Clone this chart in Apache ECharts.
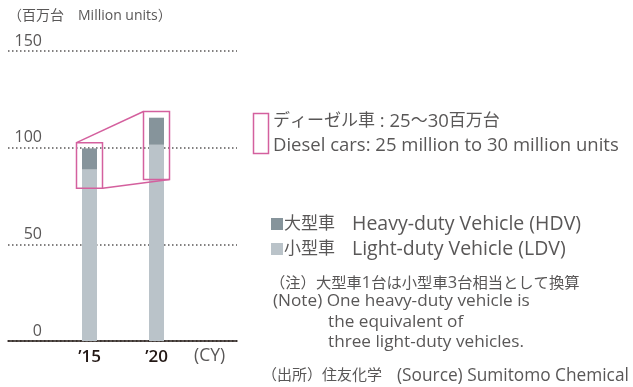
<!DOCTYPE html>
<html>
<head>
<meta charset="utf-8">
<script src="https://cdn.jsdelivr.net/npm/echarts@6/dist/echarts.min.js"></script>
<style>
  html, body { margin: 0; padding: 0; background: #fff; }
  #chart { width: 633px; height: 387px; }
</style>
</head>
<body>
<div id="chart"></div>
<script>
  // data (million units)
  var years = ['\u201915', '\u201920'];
  var ldv = [88.7, 101.5];     // 小型車 Light-duty Vehicle
  var hdv = [10.9, 14.0];      // 大型車 Heavy-duty Vehicle
  var dieselLow = [79.0, 83.5];
  var dieselHigh = [102.6, 118.7];
  var yTicks = [0, 50, 100, 150];

  var FONT = "'Open Sans', 'Noto Sans CJK JP', sans-serif";
  var GRAY = '#595757';
  var PINK = '#d4609e';
  var HDV_NAME = '大型車　Heavy-duty Vehicle (HDV)';
  var LDV_NAME = '小型車　Light-duty Vehicle (LDV)';

  // japanese part and latin part get different sizes, like the original typeface
  function rich(j, e, lh) {
    return {
      j: { fontSize: j, fill: GRAY, fontFamily: FONT, lineHeight: lh },
      e: { fontSize: e, fill: GRAY, fontFamily: FONT, lineHeight: lh }
    };
  }

  var chart = echarts.init(document.getElementById('chart'));

  chart.setOption({
    animation: false,
    textStyle: { fontFamily: FONT },
    grid: [
      // full-width grid: dotted lines, tick labels, base line
      { left: 8, top: 51, width: 229, bottom: 46 },
      // bars
      { left: 56, top: 51, width: 134, bottom: 46 }
    ],
    xAxis: [
      {
        gridIndex: 0, type: 'value', min: 0, max: 1,
        axisLine: { show: true, lineStyle: { color: '#231815', width: 1.5 } },
        axisTick: { show: false }, axisLabel: { show: false }, splitLine: { show: false }
      },
      {
        gridIndex: 1, type: 'category', data: years,
        axisLine: { show: false }, axisTick: { show: false },
        axisLabel: { color: '#231815', fontSize: 17, fontWeight: 600, margin: 8 }
      }
    ],
    yAxis: [
      {
        gridIndex: 0, type: 'value', min: yTicks[0], max: yTicks[yTicks.length - 1], interval: 50,
        axisLine: { show: false }, axisTick: { show: false },
        axisLabel: {
          color: GRAY, fontSize: 16, margin: -34, verticalAlign: 'bottom', padding: [0, 0, 2, 0]
        },
        splitLine: { show: true, lineStyle: { color: GRAY, width: 1.5, type: [1.5, 2.5] } }
      },
      {
        gridIndex: 1, type: 'value', min: 0, max: 150, show: false
      }
    ],
    legend: {
      orient: 'vertical', left: 266, top: 208,
      itemWidth: 12, itemHeight: 12, itemGap: 3, icon: 'rect',
      data: [HDV_NAME, LDV_NAME],
      formatter: function (name) {
        var parts = name.split('　');
        return '{j|' + parts[0] + '　}{e|' + parts[1] + '}';
      },
      textStyle: {
        color: GRAY, padding: [0, 0, 0, -4], lineHeight: 22,
        rich: {
          j: { fontSize: 17, color: GRAY, lineHeight: 22 },
          e: { fontSize: 19.5, color: GRAY, lineHeight: 22 }
        }
      }
    },
    series: [
      {
        name: LDV_NAME, type: 'bar', stack: 'total', xAxisIndex: 1, yAxisIndex: 1,
        barWidth: 15, itemStyle: { color: '#bac3c9' }, data: ldv
      },
      {
        name: HDV_NAME, type: 'bar', stack: 'total', xAxisIndex: 1, yAxisIndex: 1,
        barWidth: 15, itemStyle: { color: '#86949b' }, data: hdv
      },
      {
        // pink diesel boxes with the connecting lines
        type: 'custom', xAxisIndex: 1, yAxisIndex: 1, z: 5,
        data: dieselLow.map(function (v, i) { return [i, v, dieselHigh[i]]; }),
        renderItem: function (params, api) {
          var i = api.value(0);
          var hw = 13;
          var top = api.coord([i, api.value(2)]);
          var bot = api.coord([i, api.value(1)]);
          var style = { stroke: PINK, fill: null, lineWidth: 1.5 };
          var children = [{
            type: 'rect',
            shape: { x: top[0] - hw, y: top[1], width: hw * 2, height: bot[1] - top[1] },
            style: style
          }];
          if (i === 0) {
            var top2 = api.coord([1, dieselHigh[1]]);
            var bot2 = api.coord([1, dieselLow[1]]);
            children.push({
              type: 'line',
              shape: { x1: top[0] - hw, y1: top[1], x2: top2[0] - hw, y2: top2[1] },
              style: style
            });
            children.push({
              type: 'line',
              shape: { x1: bot[0] + hw, y1: bot[1], x2: bot2[0] + hw, y2: bot2[1] },
              style: style
            });
          }
          return { type: 'group', children: children };
        }
      }
    ],
    graphic: [
      {
        type: 'text', left: 8, top: 9,
        style: { text: '（百万台　Million units）', fill: GRAY, fontSize: 14, fontFamily: FONT }
      },
      {
        type: 'text', left: 194, top: 347,
        style: { text: '(CY)', fill: GRAY, fontSize: 17.5, fontFamily: FONT }
      },
      {
        type: 'rect', left: 251, top: 111,
        shape: { width: 15, height: 40 },
        style: { stroke: PINK, fill: null, lineWidth: 1.5 }
      },
      {
        type: 'text', left: 273, top: 112,
        style: {
          text: '{j|ディーゼル車}{e| : 25}{j|〜}{e|30}{j|百万台}\n{e|Diesel cars: 25 million to 30 million units}',
          fill: GRAY, fontFamily: FONT, rich: rich(17, 18.5, 24)
        }
      },
      {
        type: 'text', left: 270, top: 275,
        style: {
          text: '{j|（注）大型車}{e|1}{j|台は小型車}{e|3}{j|台相当として換算}',
          fill: GRAY, fontFamily: FONT, rich: rich(15.3, 16.5, 20)
        }
      },
      {
        type: 'text', left: 273, top: 293,
        style: {
          text: '(Note) One heavy-duty vehicle is', fill: GRAY, fontSize: 17.2, fontFamily: FONT
        }
      },
      {
        type: 'text', left: 328, top: 312,
        style: {
          text: 'the equivalent of\nthree light-duty vehicles.', fill: GRAY, fontSize: 17.2,
          lineHeight: 20, fontFamily: FONT
        }
      },
      {
        type: 'text', left: 262, top: 367,
        style: {
          text: '{j|（出所）住友化学　}{e|(Source) Sumitomo Chemical}',
          fill: GRAY, fontFamily: FONT, rich: rich(15, 17.3, 20)
        }
      }
    ]
  });
</script>
</body>
</html>
